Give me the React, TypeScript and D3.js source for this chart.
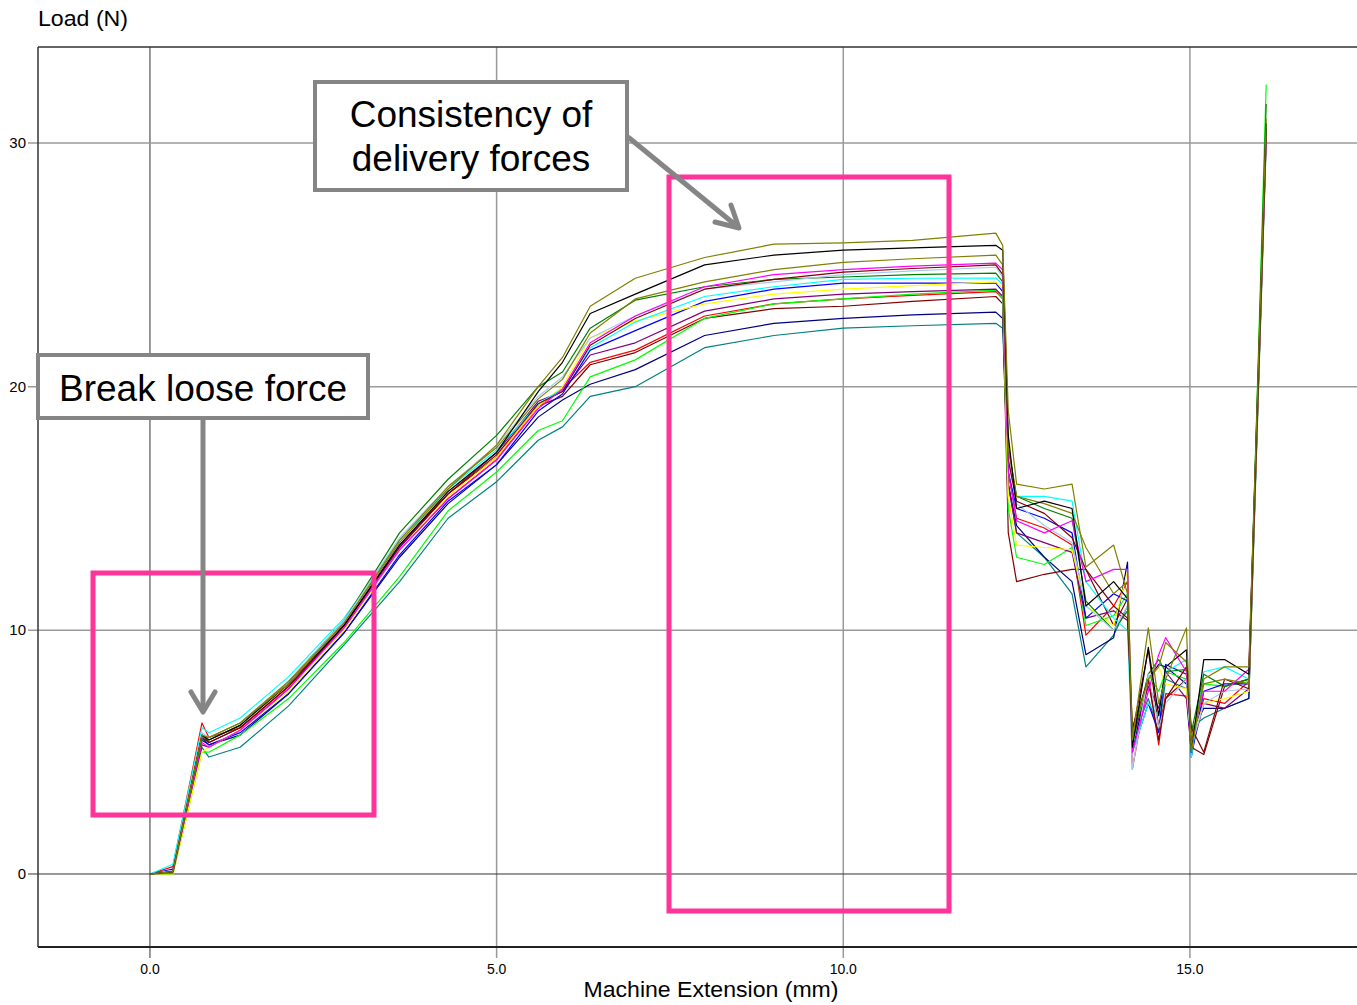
import React from 'react';
import * as d3 from 'd3';

// Machine extension (mm) sample points shared by all runs
const extension = [0, 0.33, 0.75, 0.85, 1.3, 2.0, 2.8, 3.6, 4.3, 5.0, 5.6, 5.95, 6.35, 7.0, 8.0, 9.0, 10.0, 11.0, 12.2, 12.3, 12.38, 12.5, 12.9, 13.3, 13.5, 13.9, 14.1, 14.17, 14.4, 14.55, 14.65, 14.95, 15.02, 15.2, 15.5, 15.85, 16.1];

// Load (N) per run
const loadOlive = [0, 0.1, 5.7, 5.6, 6.2, 7.8, 10.3, 13.6, 15.8, 17.6, 20.0, 21.2, 23.3, 24.45, 25.3, 25.85, 25.9, 26.0, 26.3, 25.8, 19.0, 16.0, 15.8, 16.0, 12.6, 13.5, 11.5, 5.5, 10.1, 7.0, 8.0, 10.1, 5.0, 8.0, 8.5, 8.5, 31.0];
const loadBlack = [0, 0.1, 5.7, 5.5, 6.1, 7.8, 10.2, 13.5, 15.7, 17.3, 19.8, 21.0, 23.0, 23.8, 25.0, 25.4, 25.6, 25.7, 25.8, 25.6, 18.0, 15.0, 15.3, 15.0, 11.0, 12.0, 11.3, 5.2, 9.3, 6.5, 8.5, 9.2, 5.0, 8.8, 8.8, 8.2, 30.8];
const loadOlive2 = [0, 0.05, 5.6, 5.6, 6.2, 7.9, 10.3, 13.7, 15.9, 17.5, 19.5, 20.3, 22.2, 23.6, 24.3, 24.8, 25.1, 25.25, 25.4, 25.0, 17.5, 15.5, 15.2, 14.8, 13.4, 11.5, 12.0, 5.8, 8.0, 8.5, 9.5, 8.7, 5.5, 7.8, 8.0, 7.8, 30.6];
const loadMagenta = [0, 0.05, 5.4, 5.2, 5.9, 7.6, 10.1, 13.3, 15.4, 17.0, 19.1, 19.9, 21.8, 22.9, 24.1, 24.6, 24.8, 24.95, 25.07, 24.8, 16.5, 14.5, 14.0, 14.5, 12.0, 12.5, 12.5, 5.0, 7.5, 9.0, 9.7, 8.3, 5.5, 7.5, 7.5, 8.4, 30.4];
const loadDarkRed = [0, 0.1, 5.7, 5.4, 6.0, 7.7, 10.2, 13.5, 15.6, 17.2, 19.3, 19.8, 21.7, 22.8, 24.0, 24.4, 24.7, 24.85, 25.0, 24.6, 17.0, 15.3, 14.8, 13.8, 12.5, 11.0, 10.5, 6.0, 8.0, 5.5, 7.2, 8.5, 6.0, 5.0, 8.0, 7.6, 30.2];
const loadLightBlue = [0, 0.15, 5.8, 5.6, 6.2, 7.9, 10.4, 13.8, 15.9, 17.6, 19.6, 20.4, 22.0, 22.9, 24.0, 24.3, 24.6, 24.75, 24.9, 24.5, 17.0, 15.2, 14.3, 13.6, 11.0, 10.0, 11.0, 4.3, 8.2, 6.0, 7.0, 8.0, 5.2, 7.0, 7.5, 7.6, 30.0];
const loadGreen = [0, 0.1, 5.5, 5.5, 6.1, 7.9, 10.4, 14.0, 16.2, 18.0, 20.0, 20.6, 22.4, 23.55, 24.1, 24.4, 24.5, 24.6, 24.66, 24.3, 17.5, 15.5, 15.0, 14.6, 11.2, 10.0, 10.8, 5.5, 8.2, 8.8, 8.3, 8.4, 5.8, 8.2, 7.7, 8.0, 31.6];
const loadCyan = [0, 0.4, 6.0, 5.8, 6.4, 8.1, 10.5, 13.7, 15.8, 17.4, 19.3, 19.9, 21.6, 22.65, 23.7, 24.1, 24.4, 24.45, 24.46, 24.2, 17.0, 15.5, 15.5, 15.3, 12.0, 10.5, 10.0, 5.0, 7.0, 6.5, 8.3, 8.8, 4.8, 8.3, 8.5, 8.0, 30.8];
const loadYellow = [0, 0.0, 5.0, 5.2, 5.9, 7.5, 10.0, 13.3, 15.5, 17.1, 19.2, 20.0, 22.0, 22.7, 23.4, 23.8, 24.0, 24.15, 24.3, 24.0, 15.5, 13.5, 13.4, 13.3, 11.0, 10.2, 12.4, 5.7, 8.0, 8.5, 7.8, 7.6, 5.4, 7.0, 7.2, 7.5, 30.4];
const loadBlue = [0, 0.2, 5.6, 5.3, 5.8, 7.4, 9.9, 13.1, 15.3, 16.8, 19.0, 19.7, 21.5, 22.3, 23.5, 24.0, 24.25, 24.25, 24.25, 23.9, 16.5, 15.0, 14.6, 14.0, 10.5, 11.5, 11.2, 5.0, 7.0, 5.8, 8.6, 8.2, 4.8, 7.5, 7.8, 7.8, 30.6];
const loadPurple = [0, 0.05, 5.3, 5.2, 5.9, 7.6, 10.2, 13.4, 15.6, 17.3, 19.4, 19.8, 21.3, 21.8, 23.1, 23.6, 23.8, 23.9, 24.0, 23.7, 16.0, 14.0, 13.6, 13.2, 10.5, 10.8, 10.4, 5.5, 7.7, 6.8, 8.3, 7.2, 5.0, 7.0, 6.8, 7.6, 30.2];
const loadLime = [0, 0.0, 5.0, 5.0, 5.7, 7.2, 9.5, 12.2, 14.9, 16.5, 18.2, 18.6, 20.4, 21.1, 22.8, 23.4, 23.6, 23.8, 23.96, 23.6, 15.0, 13.0, 12.7, 13.4, 10.2, 10.6, 11.5, 5.3, 8.2, 7.5, 8.3, 8.0, 5.3, 7.8, 7.7, 7.9, 32.4];
const loadRed = [0, 0.3, 6.2, 5.6, 6.0, 7.7, 10.1, 13.3, 15.4, 17.0, 19.2, 19.9, 21.0, 21.5, 22.9, 23.4, 23.6, 23.75, 23.9, 23.6, 16.5, 14.6, 14.2, 13.5, 9.8, 11.0, 12.0, 4.3, 8.0, 5.3, 7.4, 7.3, 5.2, 7.2, 7.0, 7.9, 30.5];
const loadDarkRed2 = [0, 0.1, 5.6, 5.4, 6.0, 7.7, 10.2, 13.4, 15.6, 17.1, 19.2, 19.6, 20.9, 21.4, 22.8, 23.2, 23.3, 23.5, 23.7, 23.4, 14.0, 12.0, 12.3, 12.5, 12.5, 10.2, 11.3, 5.8, 9.2, 6.0, 7.2, 8.0, 5.2, 4.9, 7.7, 8.0, 30.4];
const loadNavy = [0, 0.1, 5.5, 5.3, 5.7, 7.4, 9.9, 13.0, 15.2, 16.8, 18.75, 19.45, 20.1, 20.7, 22.1, 22.6, 22.8, 22.95, 23.06, 22.8, 16.0, 14.3, 13.0, 12.0, 9.0, 9.7, 12.8, 5.0, 8.0, 8.6, 8.5, 7.8, 5.8, 6.8, 6.8, 7.2, 30.5];
const loadTeal = [0, 0.05, 5.2, 4.8, 5.2, 6.9, 9.4, 12.0, 14.6, 16.1, 17.8, 18.35, 19.6, 20.0, 21.6, 22.1, 22.4, 22.5, 22.6, 22.4, 16.0, 14.0, 13.0, 11.5, 8.5, 9.8, 11.0, 5.5, 7.2, 5.8, 8.0, 7.6, 6.0, 6.4, 6.8, 7.2, 30.0];

const runColors = ['#008080', '#000080', '#800000', '#ff0000', '#00ff00', '#800080', '#0000ff', '#ffff00', '#00ffff', '#008000', '#a6caf0', '#800000', '#ff00ff', '#808000', '#000000', '#808000'];
const runLoads = [loadTeal, loadNavy, loadDarkRed2, loadRed, loadLime, loadPurple, loadBlue, loadYellow, loadCyan, loadGreen, loadLightBlue, loadDarkRed, loadMagenta, loadOlive2, loadBlack, loadOlive];

const xTicks = [0, 5, 10, 15];
const yTicks = [0, 10, 20, 30];

export default function App() {
  const W = 1357, H = 1005;
  const left = 38, right = 1357, top = 47, bottom = 947;
  const x = d3.scaleLinear().domain([-1.615, 17.41]).range([left, right]);
  const y = d3.scaleLinear().domain([-2.996, 33.94]).range([bottom, top]);
  const line = d3.line<number>().x((_, i) => x(extension[i])).y((d) => y(d));
  const pink = '#ff3399';
  const gray = '#858585';
  const font = '"Liberation Sans", Arial, sans-serif';
  const narrow = '"Liberation Sans Narrow", "Liberation Sans", Arial, sans-serif';

  return (
    <svg width={W} height={H} style={{ position: 'absolute', left: 0, top: 0, background: '#fff' }}>
      <defs>
        <clipPath id="plot"><rect x={left} y={top} width={right - left} height={bottom - top} /></clipPath>
      </defs>
      <rect x={0} y={0} width={W} height={H} fill="#fff" />
      {/* grid */}
      {xTicks.map((t) => (
        <line key={'gx' + t} x1={x(t)} x2={x(t)} y1={top} y2={958} stroke={t === 0 ? '#333' : '#9a9a9a'} strokeWidth={t === 0 ? 1 : 1.5} />
      ))}
      {yTicks.map((t) => (
        <line key={'gy' + t} x1={28} x2={right} y1={y(t)} y2={y(t)} stroke={t === 0 ? '#333' : '#9a9a9a'} strokeWidth={t === 0 ? 1 : 1.5} />
      ))}
      {/* frame */}
      <line x1={left} x2={left} y1={top} y2={bottom} stroke="#333" strokeWidth={1.5} />
      <line x1={left} x2={right} y1={top} y2={top} stroke="#333" strokeWidth={1.5} />
      <line x1={left} x2={right} y1={bottom} y2={bottom} stroke="#222" strokeWidth={2} />
      {/* tick labels */}
      {yTicks.map((t) => (
        <text key={'ty' + t} x={26} y={y(t) + 5} textAnchor="end" fontFamily={narrow} fontSize={15} fill="#000">{t}</text>
      ))}
      {xTicks.map((t) => (
        <text key={'tx' + t} x={x(t)} y={974} textAnchor="middle" fontFamily={narrow} fontSize={14} fill="#000">{t.toFixed(1)}</text>
      ))}
      <text x={711} y={997} textAnchor="middle" fontFamily={narrow} fontSize={22} textLength={255} lengthAdjust="spacingAndGlyphs" fill="#000">Machine Extension (mm)</text>
      <text x={38} y={26} fontFamily={font} fontSize={22} textLength={90} lengthAdjust="spacingAndGlyphs" fill="#000">Load (N)</text>
      {/* runs */}
      <g clipPath="url(#plot)">
        {runLoads.map((vals, i) => (
          <path key={'r' + i} d={line(vals) || ''} fill="none" stroke={runColors[i]} strokeWidth={1.2} strokeLinejoin="round" />
        ))}
      </g>
      {/* highlight boxes */}
      <rect x={93} y={573} width={281} height={242} fill="none" stroke={pink} strokeWidth={5} />
      <rect x={669} y={177} width={280} height={734} fill="none" stroke={pink} strokeWidth={5} />
      {/* callouts */}
      <line x1={628} y1={137} x2={738} y2={227} stroke={gray} strokeWidth={5} />
      <polyline points="715,222 739,228 731,205" fill="none" stroke={gray} strokeWidth={5} strokeLinecap="round" strokeLinejoin="round" />
      <line x1={203} y1={420} x2={203} y2={711} stroke={gray} strokeWidth={5} />
      <polyline points="191,692 203,712 215,692" fill="none" stroke={gray} strokeWidth={5} strokeLinecap="round" strokeLinejoin="round" />
      <rect x={315} y={82} width={312} height={108} fill="#fff" stroke={gray} strokeWidth={4} />
      <text x={471} y={127} textAnchor="middle" fontFamily={font} fontSize={37} fill="#000">Consistency of</text>
      <text x={471} y={171} textAnchor="middle" fontFamily={font} fontSize={37} fill="#000">delivery forces</text>
      <rect x={38} y={355} width={330} height={63} fill="#fff" stroke={gray} strokeWidth={4} />
      <text x={203} y={401} textAnchor="middle" fontFamily={font} fontSize={37} fill="#000">Break loose force</text>
    </svg>
  );
}
